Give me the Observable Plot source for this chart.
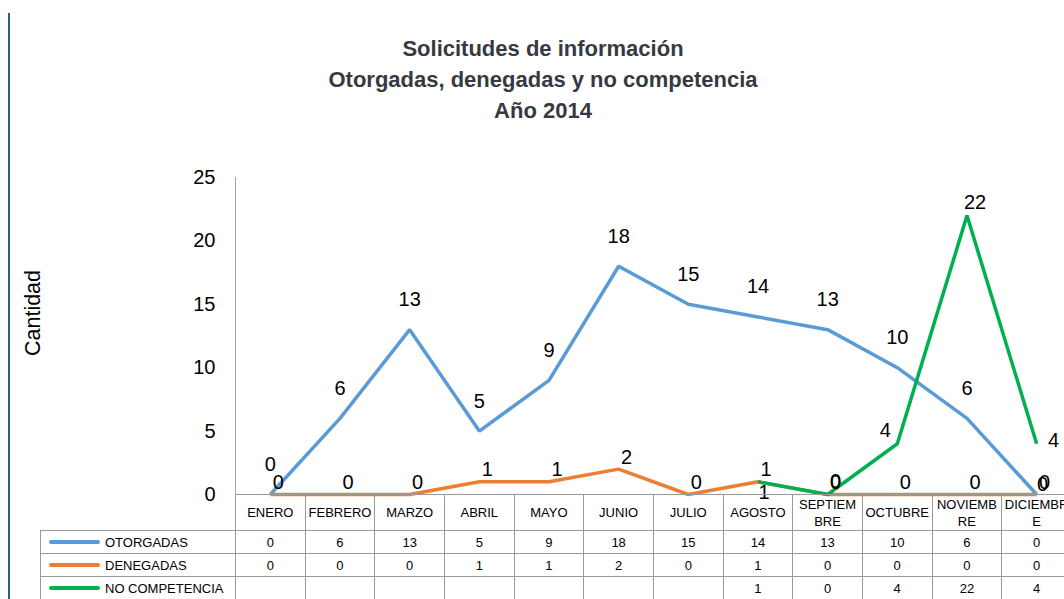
<!DOCTYPE html>
<html>
<head>
<meta charset="utf-8">
<script src="https://cdn.jsdelivr.net/npm/d3@7"></script>
<script src="https://cdn.jsdelivr.net/npm/@observablehq/plot@0.6"></script>
<style>
  body { margin: 0; background: #fff; }
  #root { position: relative; width: 1064px; height: 599px; overflow: hidden; background: #fff;
          font-family: "Liberation Sans", Arial, sans-serif; color: #000; }
  #frameLine { position: absolute; left: 8px; top: 13px; width: 2px; height: 586px; background: #2e5a88; }
  #chart { position: absolute; left: 0; top: 0; }
  #title { position: absolute; left: 0; top: 33px; width: 1086px; text-align: center;
           font-weight: bold; font-size: 22px; line-height: 31px; color: #353a42; }
  #ylabel { position: absolute; left: 33px; top: 313px; transform: translate(-50%, -50%) rotate(-90deg);
            font-size: 21.5px; white-space: nowrap; }
  table { position: absolute; left: 40px; top: 494px; border-collapse: collapse; table-layout: fixed;
          font-size: 13px; }
  td { border: 1px solid #9a9a9a; padding: 0; text-align: center; vertical-align: middle; overflow: hidden; white-space: nowrap; }
  tr.head td { height: 35px; line-height: 17px; }
  tr.row td { height: 22px; }
  td.blank { border-top: none; border-left: none; }
  td.leg { text-align: left; }
  .sw { display: inline-block; width: 51px; height: 4px; border-radius: 2px; vertical-align: middle; margin: 0 5px 2px 8px; }
</style>
</head>
<body>
<div id="root">
  <div id="frameLine"></div>
  <div id="chart"></div>
  <div id="title">Solicitudes de información<br>Otorgadas, denegadas y no competencia<br>Año 2014</div>
  <div id="ylabel">Cantidad</div>
</div>
<script>
const months = ["ENERO","FEBRERO","MARZO","ABRIL","MAYO","JUNIO","JULIO","AGOSTO","SEPTIEMBRE","OCTUBRE","NOVIEMBRE","DICIEMBRE"];
const monthLabels = ["ENERO","FEBRERO","MARZO","ABRIL","MAYO","JUNIO","JULIO","AGOSTO","SEPTIEM\nBRE","OCTUBRE","NOVIEMB\nRE","DICIEMBR\nE"];
const otorgadas = [0, 6, 13, 5, 9, 18, 15, 14, 13, 10, 6, 0];
const denegadas = [0, 0, 0, 1, 1, 2, 0, 1, 0, 0, 0, 0];
const noCompetencia = [null, null, null, null, null, null, null, 1, 0, 4, 22, 4];
const seriesNames = ["OTORGADAS", "DENEGADAS", "NO COMPETENCIA"];
const seriesColors = ["#5B9BD5", "#ED7D31", "#00B050"];
const yTicks = [0, 5, 10, 15, 20, 25];

const seriesValues = [otorgadas, denegadas, noCompetencia];
const data = [];
seriesNames.forEach((s, si) => {
  seriesValues[si].forEach((v, i) => {
    if (v !== null) data.push({series: s, month: months[i], value: v, idx: i});
  });
});
const blue = data.filter(d => d.series === seriesNames[0]);
const orange = data.filter(d => d.series === seriesNames[1]);
const green = data.filter(d => d.series === seriesNames[2]);
const lbl = d => String(d.value);

const chart = Plot.plot({
  width: 1064,
  height: 599,
  marginLeft: 235,
  marginRight: 0,
  marginTop: 177,
  marginBottom: 105,
  style: {fontFamily: "'Liberation Sans', Arial, sans-serif", fontSize: "20px", color: "#000", background: "transparent"},
  x: {type: "band", domain: months, range: [235, 1071], padding: 0, round: false, axis: null},
  y: {domain: [0, 25], range: [494, 177], axis: null},
  color: {domain: seriesNames, range: seriesColors},
  marks: [
    Plot.frame({anchor: "left", stroke: "#a6a6a6"}),
    Plot.axisY({ticks: yTicks, tickSize: 0, tickPadding: 20, fontSize: 20, label: null}),
    Plot.line(data, {x: "month", y: "value", z: "series", stroke: "series", strokeWidth: 3.5, strokeLinejoin: "miter", strokeLinecap: "butt"}),
    Plot.text(blue.filter(d => d.idx < 11), {x: "month", y: "value", text: lbl, dy: -30, fontSize: 20}),
    Plot.text(blue.filter(d => d.idx === 11), {x: "month", y: "value", text: lbl, dx: 6, dy: -10, fontSize: 20}),
    Plot.text(orange, {x: "month", y: "value", text: lbl, dx: 8, dy: -12, fontSize: 20}),
    Plot.text(green.filter(d => d.idx === 7), {x: "month", y: "value", text: lbl, dx: 6, dy: 11, fontSize: 20}),
    Plot.text(green.filter(d => d.idx === 8 || d.idx === 10), {x: "month", y: "value", text: lbl, dx: 8, dy: -13, fontSize: 20}),
    Plot.text(green.filter(d => d.idx === 9), {x: "month", y: "value", text: lbl, dx: -12, dy: -13, fontSize: 20}),
    Plot.text(green.filter(d => d.idx === 11), {x: "month", y: "value", text: lbl, dx: 17, dy: -3, fontSize: 20})
  ]
});
document.getElementById("chart").appendChild(chart);

// Data table aligned with the x band scale
const xs = chart.scale("x");
const bw = xs.bandwidth;
const firstColW = xs.range[0] - 40;
const root = d3.select("#root");
const table = root.append("table").style("width", (firstColW + bw * months.length) + "px");
const cg = table.append("colgroup");
cg.append("col").style("width", firstColW + "px");
months.forEach(() => cg.append("col").style("width", bw + "px"));
const head = table.append("tr").attr("class", "head");
head.append("td").attr("class", "blank");
monthLabels.forEach(l => head.append("td").html(l.replace("\n", "<br>")));
seriesNames.forEach((s, si) => {
  const tr = table.append("tr").attr("class", "row");
  const lc = tr.append("td").attr("class", "leg");
  lc.append("span").attr("class", "sw").style("background", seriesColors[si]);
  lc.append("span").text(s);
  seriesValues[si].forEach(v => tr.append("td").text(v === null ? "" : v));
});
</script>
</body>
</html>
